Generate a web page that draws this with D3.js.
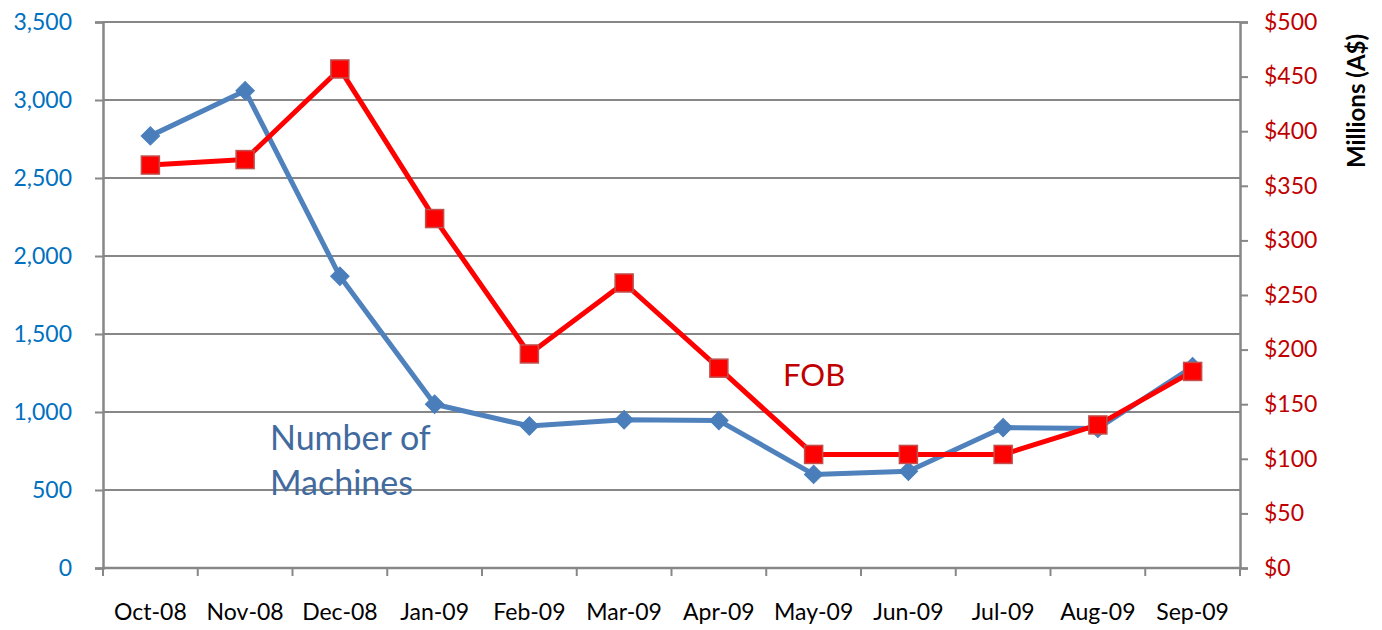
<!DOCTYPE html>
<html><head><meta charset="utf-8">
<script src="https://cdn.jsdelivr.net/npm/d3@7"></script>
<style>body{margin:0;background:#fff;}svg{display:block;font-family:Lato,"Open Sans",sans-serif;}</style>
</head><body>
<svg id="c" width="1382" height="630"></svg>
<script>
const categories = ["Oct-08","Nov-08","Dec-08","Jan-09","Feb-09","Mar-09","Apr-09","May-09","Jun-09","Jul-09","Aug-09","Sep-09"];
const machines = [2770,3060,1870,1050,910,950,945,600,620,900,895,1290];
const fob = [369,374,457,320,196,261,183,104,104,104,131,180];
const leftTicks = [0,500,1000,1500,2000,2500,3000,3500];
const rightTicks = [0,50,100,150,200,250,300,350,400,450,500];

const svg = d3.select("#c");
const L = 103, R = 1240, T = 22, B = 568;
const x = d3.scaleBand().domain(categories).range([L,R]);
const yL = d3.scaleLinear().domain([0,3500]).range([B,T]);
const yR = d3.scaleLinear().domain([0,500]).range([B,T]);
const grid = "#878787";
const tickFont = "23px";

// gridlines
svg.append("g").selectAll("line").data(leftTicks.filter(d=>d>0)).join("line")
  .attr("x1",L).attr("x2",R).attr("y1",d=>yL(d)).attr("y2",d=>yL(d))
  .attr("stroke",grid).attr("stroke-width",2);

// left axis
const gl = svg.append("g").attr("transform",`translate(${L},0)`)
  .call(d3.axisLeft(yL).tickValues(leftTicks).tickFormat(d3.format(",")).tickSize(8).tickPadding(23));
gl.select(".domain").attr("stroke",grid).attr("stroke-width",2.5);
gl.selectAll(".tick line").attr("stroke",grid).attr("stroke-width",2);
gl.selectAll("text").attr("fill","#0070C0").style("font-size",tickFont).style("font-family","Lato,'Open Sans',sans-serif");

// right axis
const gr = svg.append("g").attr("transform",`translate(${R},0)`)
  .call(d3.axisRight(yR).tickValues(rightTicks).tickFormat(d=>"$"+d).tickSize(8).tickPadding(16));
gr.select(".domain").attr("stroke",grid).attr("stroke-width",2.5);
gr.selectAll(".tick line").attr("stroke",grid).attr("stroke-width",2);
gr.selectAll("text").attr("fill","#C00000").style("font-size",tickFont).style("font-family","Lato,'Open Sans',sans-serif");

// bottom axis
const xb = svg.append("g").attr("transform",`translate(0,${B})`);
xb.append("line").attr("x1",L).attr("x2",R).attr("stroke",grid).attr("stroke-width",2.5);
const bounds = categories.map(c=>x(c)).concat([R]);
xb.selectAll("line.t").data(bounds).join("line").attr("class","t")
  .attr("x1",d=>d).attr("x2",d=>d).attr("y1",0).attr("y2",8).attr("stroke",grid).attr("stroke-width",2);
xb.selectAll("text").data(categories).join("text")
  .attr("x",d=>x(d)+x.bandwidth()/2).attr("y",52).attr("text-anchor","middle")
  .attr("fill","#000").style("font-size",tickFont).text(d=>d);

// right title
svg.append("text").attr("transform","translate(1365,101) rotate(-90)").attr("text-anchor","middle")
  .style("font-size","24px").style("font-weight","bold").attr("fill","#000").text("Millions (A$)");

const cx = d => x(d)+x.bandwidth()/2;
// machines line
svg.append("path").datum(machines).attr("fill","none").attr("stroke","#4F81BD").attr("stroke-width",5)
  .attr("stroke-linejoin","round")
  .attr("d",d3.line().x((d,i)=>cx(categories[i])).y(d=>yL(d)));
svg.append("g").selectAll("path").data(machines).join("path")
  .attr("d",d3.symbol(d3.symbolSquare,170)())
  .attr("transform",(d,i)=>`translate(${cx(categories[i])},${yL(d)}) rotate(45)`)
  .attr("fill","#4A7EBB").attr("stroke","#4A7EBB").attr("stroke-width",1);

// fob line
svg.append("path").datum(fob).attr("fill","none").attr("stroke","#FF0000").attr("stroke-width",5)
  .attr("stroke-linejoin","round")
  .attr("d",d3.line().x((d,i)=>cx(categories[i])).y(d=>yR(d)));
svg.append("g").selectAll("rect").data(fob).join("rect")
  .attr("x",(d,i)=>cx(categories[i])-9).attr("y",d=>yR(d)-9).attr("width",18).attr("height",18)
  .attr("fill","#FF0000").attr("stroke","#C0504D").attr("stroke-width",1.5);

// annotations
svg.append("text").attr("x",270).attr("y",450).attr("fill","#416A9E").style("font-size","34px").text("Number of");
svg.append("text").attr("x",270).attr("y",495).attr("fill","#416A9E").style("font-size","34px").text("Machines");
svg.append("text").attr("x",783).attr("y",386).attr("fill","#C00000").style("font-size","31px").text("FOB");
</script>
</body></html>
